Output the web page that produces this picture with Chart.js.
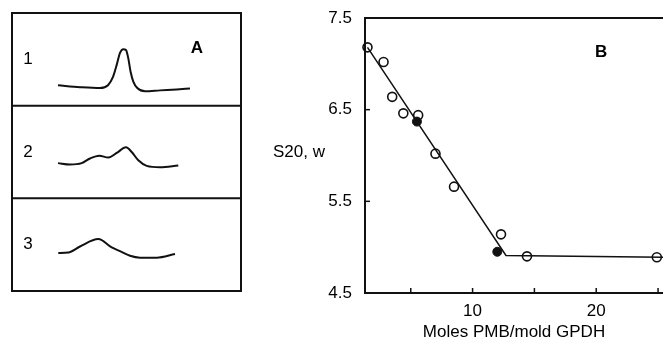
<!DOCTYPE html>
<html>
<head>
<meta charset="utf-8">
<script src="https://cdn.jsdelivr.net/npm/chart.js@4/dist/chart.umd.min.js"></script>
<style>
  html, body { margin: 0; padding: 0; background: #fff; }
  #wrap { position: relative; width: 663px; height: 341px; overflow: hidden; }
  #chartA { position: absolute; left: 0; top: 0; }
  #chartB { position: absolute; left: 250px; top: 0; }
</style>
</head>
<body>
<div id="wrap">
  <canvas id="chartA" width="255" height="341"></canvas>
  <canvas id="chartB" width="413" height="341"></canvas>
</div>
<script>
// Panel A: sedimentation traces (position along cell, height of trace within its band)
const tracePos1 = [46, 68, 88, 96, 101, 104.7, 108, 111.3, 114, 116.3, 118.7, 121.3, 125.3, 133, 148, 164.7, 178];
const traceH1   = [0.22, 0.20, 0.19, 0.22, 0.31, 0.44, 0.57, 0.61, 0.60, 0.51, 0.36, 0.26, 0.19, 0.155, 0.165, 0.175, 0.185];
const tracePos2 = [46, 58, 69.7, 78, 87.3, 96.3, 104.7, 114, 119.7, 126.3, 134.7, 148, 166.3];
const traceH2   = [0.38, 0.365, 0.38, 0.43, 0.46, 0.44, 0.49, 0.55, 0.50, 0.41, 0.35, 0.335, 0.355];
const tracePos3 = [46.3, 56.3, 68, 86.3, 99.7, 108, 118, 128, 144.7, 163];
const traceH3   = [0.41, 0.415, 0.48, 0.56, 0.47, 0.43, 0.38, 0.36, 0.36, 0.40];
const traceLabels = ['1', '2', '3'];

// Panel B: S20,w vs moles PMB per mole GPDH
const pmbOpen   = [1.5, 2.8, 3.5, 4.4, 5.6, 7.0, 8.5, 12.3, 14.4, 24.9];
const s20Open   = [7.18, 7.02, 6.64, 6.46, 6.44, 6.02, 5.66, 5.14, 4.90, 4.89];
const pmbFilled = [5.5, 12.0];
const s20Filled = [6.37, 4.95];
const fitX = [1.5, 12.7, 25.4];
const fitY = [7.18, 4.91, 4.89];
const xTickLabels = { 10: '10', 20: '20' };

Chart.defaults.font.family = "'Liberation Sans', Arial, sans-serif";
Chart.defaults.font.size = 17;
Chart.defaults.color = '#000';

const toPts = (xs, ys, base) => xs.map((x, i) => ({ x: x, y: base + ys[i] }));

// frame, band dividers and labels for panel A
const panelAFrame = {
  id: 'panelAFrame',
  afterDatasetsDraw(chart) {
    const { ctx, chartArea: a, scales: { x, y } } = chart;
    ctx.save();
    ctx.strokeStyle = '#111';
    ctx.lineWidth = 2;
    ctx.strokeRect(a.left, a.top, a.right - a.left, a.bottom - a.top);
    [1, 2].forEach(v => {
      const py = y.getPixelForValue(v);
      ctx.beginPath();
      ctx.moveTo(a.left, py);
      ctx.lineTo(a.right, py);
      ctx.stroke();
    });
    ctx.fillStyle = '#000';
    ctx.font = "17px 'Liberation Sans', Arial, sans-serif";
    ctx.textAlign = 'center';
    ctx.textBaseline = 'middle';
    traceLabels.forEach((t, i) => {
      ctx.fillText(t, x.getPixelForValue(16), y.getPixelForValue(2.5 - i));
    });
    ctx.font = "bold 17px 'Liberation Sans', Arial, sans-serif";
    ctx.fillText('A', x.getPixelForValue(185), y.getPixelForValue(2.62));
    ctx.restore();
  }
};

new Chart(document.getElementById('chartA'), {
  type: 'scatter',
  data: {
    datasets: [
      { data: toPts(tracePos1, traceH1, 2) },
      { data: toPts(tracePos2, traceH2, 1) },
      { data: toPts(tracePos3, traceH3, 0) }
    ].map(d => Object.assign(d, {
      showLine: true, borderColor: '#111', borderWidth: 2,
      pointRadius: 0, cubicInterpolationMode: 'monotone'
    }))
  },
  options: {
    responsive: false,
    animation: false,
    layout: { autoPadding: false, padding: { left: 12, top: 13, right: 14, bottom: 50 } },
    plugins: { legend: { display: false }, tooltip: { enabled: false } },
    scales: {
      x: { type: 'linear', min: 0, max: 229, display: false },
      y: { type: 'linear', min: 0, max: 3, display: false }
    }
  },
  plugins: [panelAFrame]
});

// top border, inward ticks, y title and panel letter for panel B
const panelBExtras = {
  id: 'panelBExtras',
  afterDraw(chart) {
    const { ctx, chartArea: a, scales: { x, y } } = chart;
    ctx.save();
    ctx.strokeStyle = '#111';
    ctx.lineWidth = 2;
    ctx.beginPath();
    ctx.moveTo(a.left - 1, a.top);
    ctx.lineTo(a.right, a.top);
    ctx.stroke();
    ctx.lineWidth = 1.5;
    [5.5, 6.5].forEach(v => {
      const py = y.getPixelForValue(v);
      ctx.beginPath(); ctx.moveTo(a.left, py); ctx.lineTo(a.left + 5, py); ctx.stroke();
    });
    [5, 10, 15, 20, 25].forEach(v => {
      const px = x.getPixelForValue(v);
      ctx.beginPath(); ctx.moveTo(px, a.bottom); ctx.lineTo(px, a.bottom - 5); ctx.stroke();
    });
    ctx.fillStyle = '#000';
    ctx.font = "17px 'Liberation Sans', Arial, sans-serif";
    ctx.textAlign = 'right';
    ctx.textBaseline = 'middle';
    ctx.fillText('S20, w', a.left - 40, y.getPixelForValue(6.03));
    ctx.textAlign = 'center';
    ctx.font = "bold 17px 'Liberation Sans', Arial, sans-serif";
    ctx.fillText('B', x.getPixelForValue(20.4), y.getPixelForValue(7.13));
    ctx.restore();
  }
};

new Chart(document.getElementById('chartB'), {
  type: 'scatter',
  data: {
    datasets: [
      {
        label: 'fit',
        data: fitX.map((v, i) => ({ x: v, y: fitY[i] })),
        showLine: true, borderColor: '#111', borderWidth: 1.5,
        pointRadius: 0, tension: 0, clip: false
      },
      {
        label: 'open',
        data: pmbOpen.map((v, i) => ({ x: v, y: s20Open[i] })),
        pointRadius: 4.5, pointBorderWidth: 1.6,
        pointBorderColor: '#111', pointBackgroundColor: 'rgba(0,0,0,0)', clip: false
      },
      {
        label: 'filled',
        data: pmbFilled.map((v, i) => ({ x: v, y: s20Filled[i] })),
        pointRadius: 4.5, pointBorderWidth: 1,
        pointBorderColor: '#111', pointBackgroundColor: '#111', clip: false
      }
    ]
  },
  options: {
    responsive: false,
    animation: false,
    layout: { autoPadding: false, padding: { left: 0, top: 18, right: 0, bottom: 0 } },
    plugins: { legend: { display: false }, tooltip: { enabled: false } },
    scales: {
      x: {
        type: 'linear', min: 1.3, max: 25.4,
        afterFit(scale) { scale.height = 48; scale.paddingLeft = 0; scale.paddingRight = 0; },
        grid: { display: false, drawTicks: false },
        border: { display: true, color: '#111', width: 2 },
        ticks: {
          stepSize: 5, includeBounds: false, padding: 8, maxRotation: 0, autoSkip: false,
          callback: v => xTickLabels[v] || ''
        },
        title: {
          display: true, text: 'Moles PMB/mold GPDH',
          font: { lineHeight: 1.0 }, padding: { top: 0, bottom: 0 }
        }
      },
      y: {
        type: 'linear', min: 4.5, max: 7.5,
        afterFit(scale) { scale.width = 115; scale.paddingTop = 0; scale.paddingBottom = 0; },
        grid: { display: false, drawTicks: false },
        border: { display: true, color: '#111', width: 2 },
        ticks: { stepSize: 1, padding: 13 }
      }
    }
  },
  plugins: [panelBExtras]
});
</script>
</body>
</html>
